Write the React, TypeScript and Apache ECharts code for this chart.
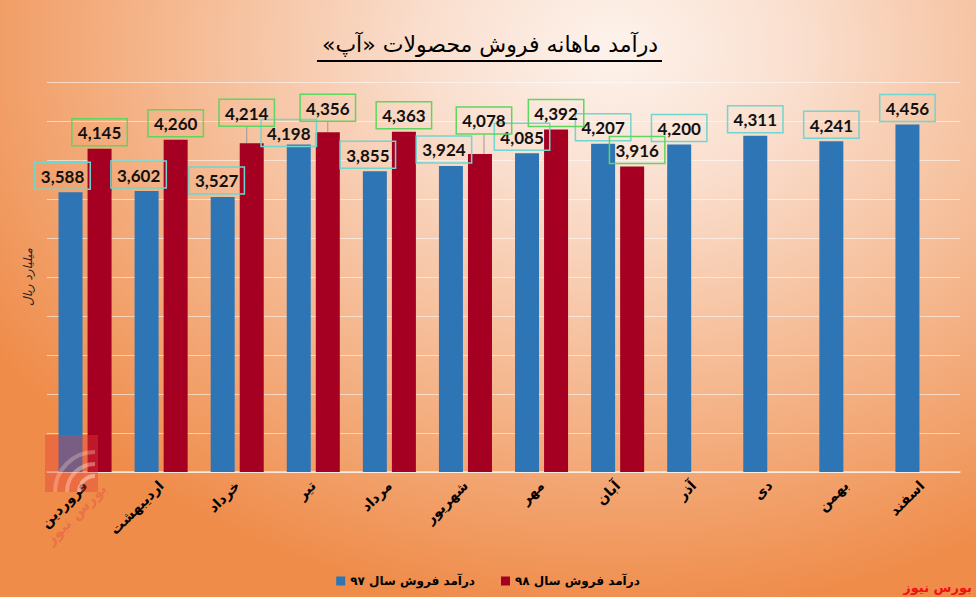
import React, { useEffect, useRef } from "react";
import * as echarts from "echarts";

const months = ["فروردین", "اردیبهشت", "خرداد", "تیر", "مرداد", "شهریور", "مهر", "آبان", "آذر", "دی", "بهمن", "اسفند"];
const sales97 = [3588, 3602, 3527, 4198, 3855, 3924, 4085, 4207, 4200, 4311, 4241, 4456];
const sales98 = [4145, 4260, 4214, 4356, 4363, 4078, 4392, 3916, null, null, null, null];
const seriesNames = ["درآمد فروش سال ۹۷", "درآمد فروش سال ۹۸"];
const titleText = "درآمد ماهانه فروش محصولات «آپ»";
const unitText = "میلیارد ریال";
const brandText = "بورس نیوز";
const yMax = 5000;
const yStep = 500;

// manual label shifts (style only)
const labelShift97: [number, number][] = [[-8, 0], [-8, 0], [-6, 0], [-10, 5], [-7, 0], [-7, 0], [-5, 0], [0, 0], [0, 0], [0, 0], [0, 0], [0, 0]];
const labelShift98: [number, number][] = [[0, 0], [0, 0], [-5, -14], [0, -8], [0, 0], [4, -17], [0, 0], [5, 0], [0, 0], [0, 0], [0, 0], [0, 0]];

const RLM = "\u200F";
const rtl = (s: string) => RLM + s + RLM;

export default function App() {
  const ref = useRef<HTMLDivElement>(null);
  useEffect(() => {
    document.body.style.margin = "0";
    const chart = echarts.init(ref.current!, null, { renderer: "svg" });
    const fmt = (p: any) => Number(p.value).toLocaleString("en-US");
    const labelBase = {
      show: true,
      position: "top",
      distance: 3,
      formatter: fmt,
      fontFamily: "Lato",
      fontWeight: "bold",
      fontSize: 17,
      color: "#111",
      lineHeight: 20,
      padding: [4, 6, 3, 6],
      borderWidth: 1.5,
    };
    const shifts = [labelShift97, labelShift98];
    const lineItems98 = [2, 3, 5];
    const arcStyle = (a: number) => ({ stroke: `rgba(255,225,210,${a})`, lineWidth: 4, fill: "none" });
    chart.setOption({
      animation: false,
      grid: { left: 47, right: 16, top: 82, bottom: 125, containLabel: false },
      legend: {
        data: seriesNames.map((n) => ({ name: n })),
        formatter: (n: string) => rtl(n),
        left: "center",
        top: 570,
        icon: "rect",
        itemWidth: 9,
        itemHeight: 9,
        itemGap: 26,
        textStyle: { fontFamily: "DejaVu Sans", fontSize: 12, fontWeight: "bold", color: "#000" },
      },
      xAxis: {
        type: "category",
        data: months,
        axisLine: { lineStyle: { color: "rgba(255,255,255,0.75)", width: 1.5 } },
        axisTick: { show: false },
        axisLabel: {
          interval: 0,
          rotate: 45,
          margin: 11,
          fontFamily: "DejaVu Sans",
          fontSize: 14,
          fontWeight: "bold",
          color: "#000",
        },
      },
      yAxis: {
        type: "value",
        min: 0,
        max: yMax,
        interval: yStep,
        axisLine: { show: false },
        axisTick: { show: false },
        axisLabel: { show: false },
        splitLine: { lineStyle: { color: "rgba(255,255,255,0.55)", width: 1 } },
        name: unitText,
        nameLocation: "middle",
        nameRotate: 90,
        nameGap: 13,
        nameTextStyle: { fontFamily: "DejaVu Sans", fontSize: 12, fontStyle: "italic", color: "#222" },
      },
      labelLayout: (params: any) => {
        const s = shifts[params.seriesIndex][params.dataIndex];
        return { dx: s[0], dy: s[1] };
      },
      series: [
        {
          name: seriesNames[0],
          type: "bar",
          data: sales97,
          barWidth: 24,
          barGap: "21%",
          itemStyle: { color: "#2e75b6" },
          label: { ...labelBase, borderColor: "#6fd6d0" },
        },
        {
          name: seriesNames[1],
          type: "bar",
          data: sales98.map((v, i) =>
            lineItems98.includes(i)
              ? { value: v, labelLine: { show: true, lineStyle: { color: "#999", width: 1 } } }
              : v
          ),
          barWidth: 24,
          itemStyle: { color: "#a50021" },
          label: { ...labelBase, borderColor: "#5fd65f" },
        },
      ],
      graphic: [
        {
          type: "rect",
          silent: true,
          z: 100,
          shape: { x: 45, y: 435, width: 53, height: 57 },
          style: { fill: "rgba(232,60,55,0.4)" },
        },
        {
          type: "arc",
          silent: true,
          z: 101,
          shape: { cx: 95, cy: 492, r: 16, startAngle: Math.PI, endAngle: Math.PI * 1.5 },
          style: arcStyle(0.5),
        },
        {
          type: "arc",
          silent: true,
          z: 101,
          shape: { cx: 95, cy: 492, r: 28, startAngle: Math.PI, endAngle: Math.PI * 1.5 },
          style: arcStyle(0.4),
        },
        {
          type: "arc",
          silent: true,
          z: 101,
          shape: { cx: 95, cy: 492, r: 40, startAngle: Math.PI, endAngle: Math.PI * 1.5 },
          style: arcStyle(0.3),
        },
        {
          type: "text",
          silent: true,
          z: 101,
          x: 76,
          y: 514,
          rotation: Math.PI / 4,
          style: {
            text: rtl(brandText),
            fontFamily: "DejaVu Sans",
            fontSize: 15,
            fontWeight: "bold",
            fill: "rgba(225,60,60,0.35)",
            align: "center",
            verticalAlign: "middle",
          },
        },
        {
          type: "text",
          x: 490,
          y: 44,
          style: {
            text: rtl(titleText),
            fontFamily: "DejaVu Sans",
            fontSize: 22,
            fill: "#000",
            align: "center",
            verticalAlign: "middle",
          },
        },
        {
          type: "line",
          shape: { x1: 317, y1: 61, x2: 662, y2: 61 },
          style: { stroke: "#000", lineWidth: 2 },
        },
        {
          type: "text",
          x: 972,
          y: 587,
          style: {
            text: rtl(brandText),
            fontFamily: "DejaVu Sans",
            fontSize: 13,
            fontWeight: "bold",
            fill: "#f01010",
            align: "right",
            verticalAlign: "middle",
          },
        },
      ],
    });
    return () => chart.dispose();
  }, []);
  return (
    <div
      ref={ref}
      style={{
        width: 976,
        height: 597,
        background:
          "radial-gradient(ellipse 75% 95% at 63% 8%, #fdf3ec 0%, #fadfcf 25%, #f5b991 60%, #ef8c4a 100%)",
      }}
    />
  );
}
